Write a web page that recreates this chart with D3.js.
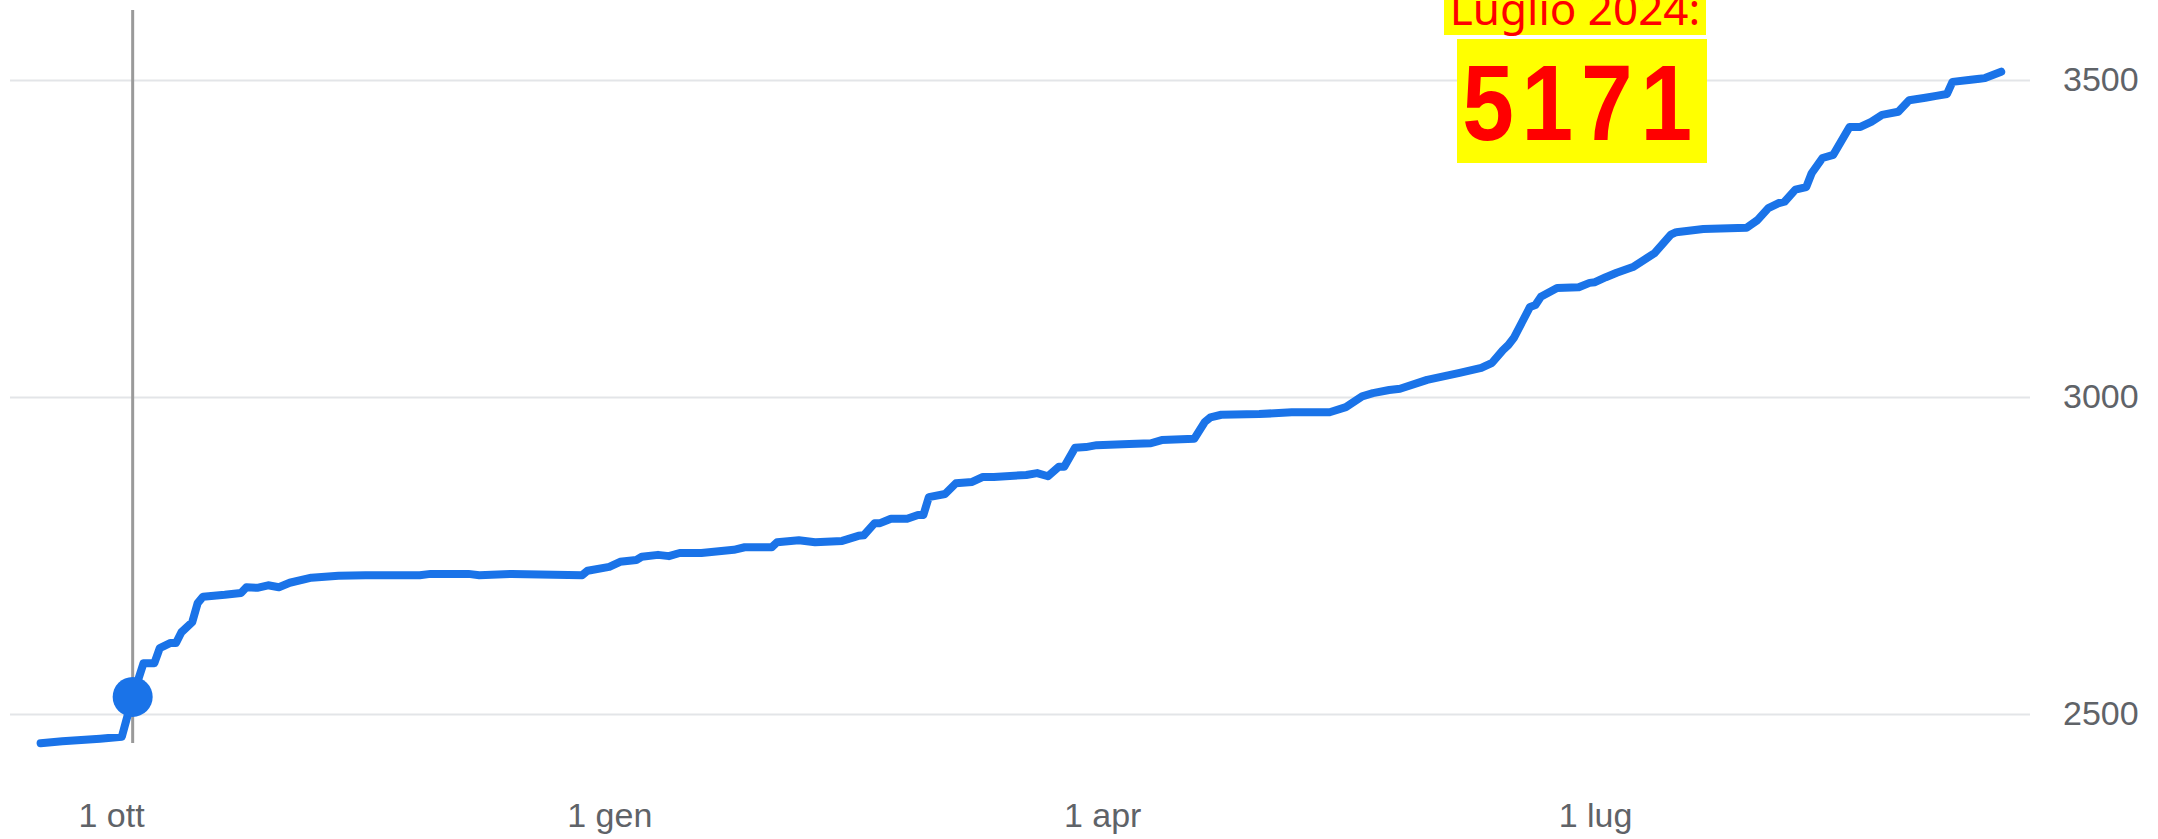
<!DOCTYPE html>
<html>
<head>
<meta charset="utf-8">
<script src="https://cdn.jsdelivr.net/npm/d3@7"></script>
<style>
  html, body { margin: 0; padding: 0; background: #fff; }
  .axis text { font-family: "Liberation Sans", Arial, sans-serif; font-size: 34px; fill: #5f6368; }
</style>
</head>
<body>
<svg id="chart" width="2158" height="839"></svg>
<script>
// dates and values
const dates = [
  "2023-09-18","2023-09-22","2023-09-29","2023-10-03","2023-10-05","2023-10-07","2023-10-09","2023-10-10",
  "2023-10-12","2023-10-13","2023-10-14","2023-10-16","2023-10-17","2023-10-18","2023-10-22","2023-10-25",
  "2023-10-26","2023-10-28","2023-10-30","2023-11-01","2023-11-03","2023-11-07","2023-11-12","2023-11-17",
  "2023-11-27","2023-11-29","2023-12-06","2023-12-08","2023-12-14","2023-12-27","2023-12-28","2024-01-01",
  "2024-01-03","2024-01-06","2024-01-07","2024-01-10","2024-01-12","2024-01-14","2024-01-18","2024-01-24",
  "2024-01-26","2024-01-31","2024-02-01","2024-02-05","2024-02-08","2024-02-13","2024-02-16","2024-02-17",
  "2024-02-19","2024-02-20","2024-02-22","2024-02-25","2024-02-27","2024-02-28","2024-02-29","2024-03-03",
  "2024-03-05","2024-03-08","2024-03-10","2024-03-12","2024-03-18","2024-03-20","2024-03-22","2024-03-24",
  "2024-03-25","2024-03-27","2024-03-29","2024-03-31","2024-04-06","2024-04-10","2024-04-12","2024-04-18",
  "2024-04-20","2024-04-21","2024-04-23","2024-04-30","2024-05-06","2024-05-13","2024-05-16","2024-05-19",
  "2024-05-21","2024-05-24","2024-05-26","2024-05-31","2024-06-06","2024-06-10","2024-06-12","2024-06-14",
  "2024-06-15","2024-06-16","2024-06-19","2024-06-20","2024-06-21","2024-06-24","2024-06-28","2024-06-30",
  "2024-07-01","2024-07-03","2024-07-05","2024-07-08","2024-07-10","2024-07-12","2024-07-15","2024-07-16",
  "2024-07-21","2024-07-29","2024-07-31","2024-08-02","2024-08-04","2024-08-05","2024-08-07","2024-08-09",
  "2024-08-10","2024-08-12","2024-08-14","2024-08-17","2024-08-19","2024-08-21","2024-08-23","2024-08-26",
  "2024-08-28","2024-08-31","2024-09-02","2024-09-04","2024-09-05","2024-09-08","2024-09-10","2024-09-11",
  "2024-09-14"
]
const values = [
  2454, 2457, 2461, 2464, 2527, 2580, 2580, 2604,
  2612, 2612, 2629, 2645, 2675, 2685, 2688, 2691,
  2700, 2699, 2703, 2700, 2707, 2715, 2718, 2719,
  2719, 2721, 2721, 2719, 2721, 2719, 2726, 2732,
  2740, 2743, 2748, 2751, 2749, 2754, 2754, 2759,
  2763, 2763, 2771, 2774, 2771, 2773, 2781, 2782,
  2801, 2801, 2808, 2808, 2814, 2814, 2842, 2847,
  2864, 2866, 2874, 2874, 2877, 2880, 2875, 2890,
  2890, 2920, 2921, 2924, 2926, 2927, 2932, 2934,
  2961, 2968, 2972, 2973, 2976, 2976, 2984, 3001,
  3006, 3011, 3013, 3027, 3038, 3046, 3054, 3074,
  3082, 3093, 3142, 3145, 3158, 3172, 3173, 3180,
  3181, 3189, 3196, 3205, 3216, 3227, 3256, 3260,
  3265, 3267, 3279, 3298, 3306, 3308, 3327, 3331,
  3353, 3377, 3382, 3426, 3426, 3434, 3445, 3450,
  3468, 3472, 3475, 3478, 3497, 3500, 3502, 3503,
  3513
]

const xTickDates  = ["2023-10-01","2024-01-01","2024-04-01","2024-07-01"]
const xTickLabels = ["1 ott","1 gen","1 apr","1 lug"]
const yTicks      = [2500, 3000, 3500]

const hoverDate   = "2023-10-05"
const noteTitle   = "Luglio 2024:"
const noteValue   = "5171"

const parse = d3.timeParse("%Y-%m-%d")
const data  = dates.map(function(d, i){ return {x: parse(d), y: values[i]} })

const svg = d3.select("#chart")

const x = d3.scaleTime()
  .domain([parse(xTickDates[0]), parse(xTickDates[3])])
  .range([111, 1595])

const y = d3.scaleLinear()
  .domain([2500, 3500])
  .range([714, 80])

// y axis on the right, with the gridlines
const yAxis = d3.axisRight(y)
  .tickValues(yTicks)
  .tickSizeInner(-2020)
  .tickSizeOuter(0)
  .tickPadding(33)
  .tickFormat(function(d){ return d })

const gy = svg.append("g")
  .attr("class", "y axis")
  .attr("transform", "translate(2030,0)")
  .call(yAxis)
gy.select(".domain").remove()
gy.selectAll(".tick line").attr("stroke", "#e3e5e8").attr("stroke-width", 2)

// x axis, labels only
const xAxis = d3.axisBottom(x)
  .tickValues(xTickDates.map(parse))
  .tickSize(0)
  .tickPadding(33)
  .tickFormat(function(d, i){ return xTickLabels[i] })

const gx = svg.append("g")
  .attr("class", "x axis")
  .attr("transform", "translate(0,770)")
  .call(xAxis)
gx.select(".domain").remove()

// hover line
const hx = x(parse(hoverDate))
svg.append("line")
  .attr("x1", hx).attr("x2", hx)
  .attr("y1", 10).attr("y2", 743)
  .attr("stroke", "#9a9a9a")
  .attr("stroke-width", 3)

const line = d3.line()
  .x(function(d){ return x(d.x) })
  .y(function(d){ return y(d.y) })

svg.append("path")
  .datum(data)
  .attr("fill", "none")
  .attr("stroke", "#1a73e8")
  .attr("stroke-width", 8)
  .attr("stroke-linejoin", "round")
  .attr("stroke-linecap", "round")
  .attr("d", line)

const hoverPoint = data.find(function(d){ return +d.x === +parse(hoverDate) })
svg.append("circle")
  .attr("cx", x(hoverPoint.x))
  .attr("cy", y(hoverPoint.y))
  .attr("r", 20)
  .attr("fill", "#1a73e8")

// the yellow note
svg.append("rect")
  .attr("x", 1444).attr("y", -10)
  .attr("width", 262).attr("height", 45)
  .attr("fill", "#ffff00")
svg.append("text")
  .attr("x", 1575).attr("y", 25)
  .attr("text-anchor", "middle")
  .attr("font-family", "'Noto Sans', sans-serif")
  .attr("font-size", 44)
  .attr("fill", "#ff0000")
  .text(noteTitle)

svg.append("rect")
  .attr("x", 1457).attr("y", 39)
  .attr("width", 250).attr("height", 124)
  .attr("fill", "#ffff00")
// narrower digits with wider gaps, like the original
svg.append("text")
  .attr("transform", "translate(1581,140) scale(0.86,1)")
  .attr("text-anchor", "middle")
  .attr("font-family", "'Liberation Sans', Arial, sans-serif")
  .attr("font-weight", "bold")
  .attr("font-size", 108)
  .attr("letter-spacing", 9)
  .attr("fill", "#ff0000")
  .text(noteValue)
</script>
</body>
</html>
